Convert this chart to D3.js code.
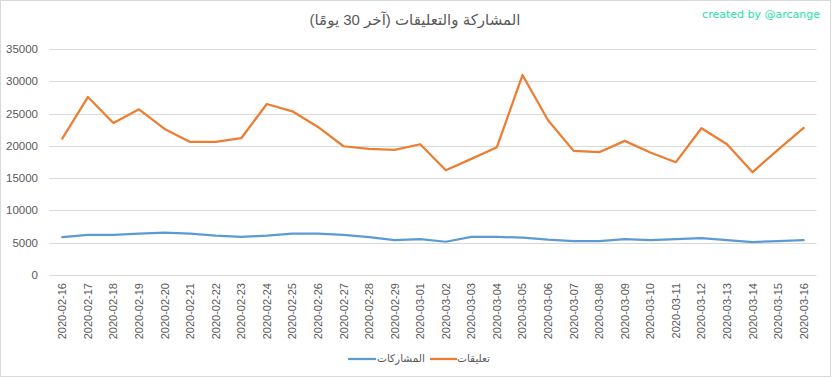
<!DOCTYPE html>
<html>
<head>
<meta charset="utf-8">
<script src="https://cdn.jsdelivr.net/npm/d3@7"></script>
<style>
  body { margin: 0; background: #fff; }
  svg text { font-family: "Liberation Sans", "DejaVu Sans", sans-serif; }
</style>
</head>
<body>
<svg width="832" height="378"></svg>
<script>
let dates = ["2020-02-16","2020-02-17","2020-02-18","2020-02-19","2020-02-20","2020-02-21","2020-02-22","2020-02-23","2020-02-24","2020-02-25",
  "2020-02-26","2020-02-27","2020-02-28","2020-02-29","2020-03-01","2020-03-02","2020-03-03","2020-03-04","2020-03-05","2020-03-06",
  "2020-03-07","2020-03-08","2020-03-09","2020-03-10","2020-03-11","2020-03-12","2020-03-13","2020-03-14","2020-03-15","2020-03-16"];

// المشاركات
let shares = [5870,6230,6230,6390,6550,6390,6080,5920,6080,6390,
  6390,6230,5870,5410,5570,5150,5920,5920,5770,5460,
  5250,5250,5570,5410,5570,5720,5410,5100,5250,5410];

// تعليقات
let comments = [21130,27560,23550,25660,22620,20610,20610,21180,26480,25350,
  22930,19940,19530,19370,20250,16230,17980,19790,30970,23960,
  19220,19020,20770,18970,17470,22730,20250,15920,19430,22780];

let yTicks = [0,5000,10000,15000,20000,25000,30000,35000];
let title = "المشاركة والتعليقات (آخر 30 يومًا)";
let seriesNames = ["المشاركات", "تعليقات"];
let colors = ["#5B9BD5", "#ED7D31"];

let svg = d3.select("svg");

svg.append("rect")
  .attr("x", 0.5).attr("y", 0.5)
  .attr("width", 830).attr("height", 376)
  .attr("fill", "#fff")
  .attr("stroke", "#D9D9D9");

let plotLeft = 49.5, plotRight = 816.5, plotTop = 49, plotBottom = 275;

let x = d3.scaleBand().domain(dates).range([plotLeft, plotRight]);
let y = d3.scaleLinear().domain([0, 35000]).range([plotBottom, plotTop]);

// gridlines
svg.append("g")
  .selectAll("line")
  .data(yTicks)
  .enter()
  .append("line")
  .attr("x1", plotLeft).attr("x2", plotRight)
  .attr("y1", d => Math.round(y(d)) + 0.5)
  .attr("y2", d => Math.round(y(d)) + 0.5)
  .attr("stroke", "#D9D9D9")
  .attr("stroke-width", 1);

// y labels
svg.append("g")
  .selectAll("text")
  .data(yTicks)
  .enter()
  .append("text")
  .attr("x", 38)
  .attr("y", d => y(d) + 4)
  .attr("text-anchor", "end")
  .attr("font-size", "11.5px")
  .attr("fill", "#595959")
  .text(d => d);

// x labels
svg.append("g")
  .selectAll("text")
  .data(dates)
  .enter()
  .append("text")
  .attr("transform", d => "translate(" + (x(d) + x.bandwidth() / 2 + 4) + "," + 283 + ") rotate(-90)")
  .attr("text-anchor", "end")
  .attr("font-size", "11px")
  .attr("fill", "#595959")
  .text(d => d);

let line = d3.line()
  .x((d, i) => x(dates[i]) + x.bandwidth() / 2)
  .y(d => y(d));

[shares, comments].forEach((s, k) => {
  svg.append("path")
    .attr("d", line(s))
    .attr("fill", "none")
    .attr("stroke", colors[k])
    .attr("stroke-width", 2.25)
    .attr("stroke-linejoin", "round")
    .attr("stroke-linecap", "round");
});

// title
svg.append("text")
  .attr("x", 415)
  .attr("y", 25)
  .attr("text-anchor", "middle")
  .attr("font-size", "15px")
  .attr("fill", "#595959")
  .text(title);

// watermark
svg.append("text")
  .attr("x", 820)
  .attr("y", 18)
  .attr("text-anchor", "end")
  .attr("font-size", "11px")
  .attr("fill", "#1EE3A0")
  .attr("style", "font-family: 'DejaVu Sans', sans-serif")
  .text("created by @arcange");

// legend
let legendItems = [{x1: 348, x2: 376, tx: 377}, {x1: 430, x2: 457, tx: 457}];
legendItems.forEach((it, k) => {
  svg.append("line")
    .attr("x1", it.x1).attr("x2", it.x2)
    .attr("y1", 359).attr("y2", 359)
    .attr("stroke", colors[k])
    .attr("stroke-width", 2.25);
  svg.append("text")
    .attr("x", it.tx)
    .attr("y", 362)
    .attr("text-anchor", "start")
    .attr("font-size", "10.5px")
    .attr("fill", "#595959")
    .text(seriesNames[k]);
});
</script>
</body>
</html>
